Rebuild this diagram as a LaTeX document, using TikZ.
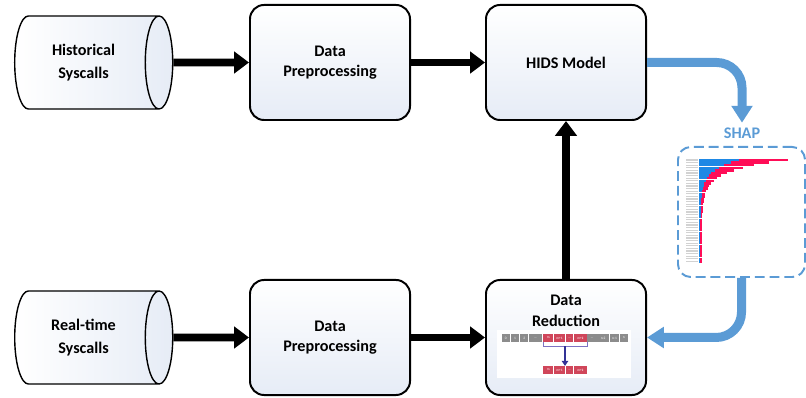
\documentclass[tikz,border=0pt]{standalone}
\usepackage{fontspec}
\setmainfont{Carlito}
\usepackage{tikz}
\usetikzlibrary{arrows.meta,shapes.geometric,calc}

\definecolor{boxfill}{RGB}{230,236,246}
\definecolor{shapblue}{RGB}{91,155,213}
\definecolor{cellgray}{RGB}{140,140,140}
\definecolor{cellred}{RGB}{208,70,90}
\definecolor{barblue}{RGB}{30,136,229}
\definecolor{barpink}{RGB}{255,13,87}
\definecolor{bracecol}{RGB}{125,115,195}
\definecolor{downcol}{RGB}{50,50,150}

\begin{document}
\begin{tikzpicture}[x=0.025cm, y=-0.025cm,
    block/.style={draw, line width=1.4pt, rounded corners=10pt, minimum width=4cm,
                  minimum height=2.875cm, align=center, top color=white, bottom color=boxfill,
                  font=\fontsize{11.5}{14.5}\selectfont\bfseries},
    source/.style={cylinder, draw, line width=1pt, aspect=0.6, minimum width=2.325cm,
                   minimum height=3.95cm, align=center, left color=white, right color=boxfill,
                   font=\fontsize{11.5}{16}\selectfont\bfseries},
    blackarrow/.style={line width=5.5pt, -{Triangle[length=10.5pt, width=15pt]}},
    bluearrow/.style={draw=shapblue, line width=6.4pt, rounded corners=18pt,
                      -{Triangle[length=12pt, width=14.5pt]}},
    cell/.style={inner sep=0pt, minimum height=0.19cm, text=white,
                 font=\fontsize{2.5}{3}\selectfont}
]
\useasboundingbox (0,0) rectangle (806,398);

% ================================================================
%  Row 1 — training path
% ================================================================
\node[source] (hist)  at (83.5, 62.5) {Historical\\Syscalls};
\node[block]  (prep1) at (330, 62.5)  {Data\\Preprocessing};
\node[block]  (hids)  at (566, 62.5)  {HIDS Model};

\draw[blackarrow] (hist.east) -- (prep1.west);
\draw[blackarrow] (prep1.east) -- (hids.west);

% ================================================================
%  Row 2 — detection path
% ================================================================
\node[source] (rts)   at (83.5, 337.5) {Real-time\\Syscalls};
\node[block]  (prep2) at (330, 337.5)  {Data\\Preprocessing};
\node[block]  (red)   at (566, 337.5)  {};
\node[font=\fontsize{11.5}{14.5}\selectfont\bfseries, align=center] (redtxt) at (566, 311) {Data\\Reduction};

\draw[blackarrow] (rts.east) -- (prep2.west);
\draw[blackarrow] (prep2.east) -- (red.west);
\draw[blackarrow] (red.north) -- (hids.south);

% syscall array inside the reduction block
\fill[white] (497,330) rectangle (631,378);
\foreach \lab/\xa/\xb/\col [count=\k] in {
    0/501.7/510/cellgray, 1/510.7/519.3/cellgray, 2/520/528.3/cellgray,
    \ldots/529/541.7/cellgray, m/543.3/553.3/cellred, m+1/553.9/565/cellred,
    \ldots/565.6/573.3/cellred, m+k/574/586.7/cellred, \ldots/587.3/596.7/cellgray,
    n-2/597.3/609/cellgray, n-1/609.6/619.3/cellgray, n/620/627.7/cellgray} {
    \node[cell, fill=\col, minimum width={(\xb-\xa)*0.025cm}] (c\k) at ({(\xa+\xb)/2}, 338) {\lab};
}
\foreach \lab/\xa/\xb [count=\k] in {
    m/543.3/553.3, m+1/553.9/565, \ldots/565.6/573.3, m+k/574/586.7} {
    \node[cell, fill=cellred, minimum width={(\xb-\xa)*0.025cm}] (d\k) at ({(\xa+\xb)/2}, 370) {\lab};
}
\draw[bracecol, line width=0.6pt] (c5.south west) -- ++(0,4) -| (c8.south east);
\coordinate (brmid) at ($(c5.south west)!0.5!(c8.south east)+(0,4)$);
\draw[downcol, line width=1.5pt, -{Triangle[length=3.5pt, width=4.5pt]}]
    (brmid) -- (brmid |- d1.north);

% ================================================================
%  SHAP explanation loop
% ================================================================
\node[text=shapblue, font=\fontsize{11.5}{14}\selectfont\bfseries] (shaplbl) at (742, 133) {SHAP};
\node[draw=shapblue, line width=1.4pt, dash pattern=on 7pt off 3.5pt, rounded corners=9pt,
      fill=white, minimum width=3.175cm, minimum height=3.25cm] (shapbox) at (741.5, 212) {};

\foreach \i in {0,...,39} {
    \pgfmathsetmacro{\yb}{160 + \i*2.6}
    \pgfmathsetmacro{\len}{3 + 86*exp(-\i/4)}
    \draw[gray!35, line width=0.9pt] (686, \yb) -- (698, \yb);
    \draw[barblue, line width=1.7pt] (699, \yb) -- ++(0.45*\len, 0);
    \draw[barpink, line width=1.7pt] ({699 + 0.45*\len}, \yb) -- ++(0.55*\len, 0);
}

\draw[bluearrow] (hids.east) -| (shaplbl.north);
\draw[bluearrow] (shapbox.south) |- (red.east);
\end{tikzpicture}
\end{document}
